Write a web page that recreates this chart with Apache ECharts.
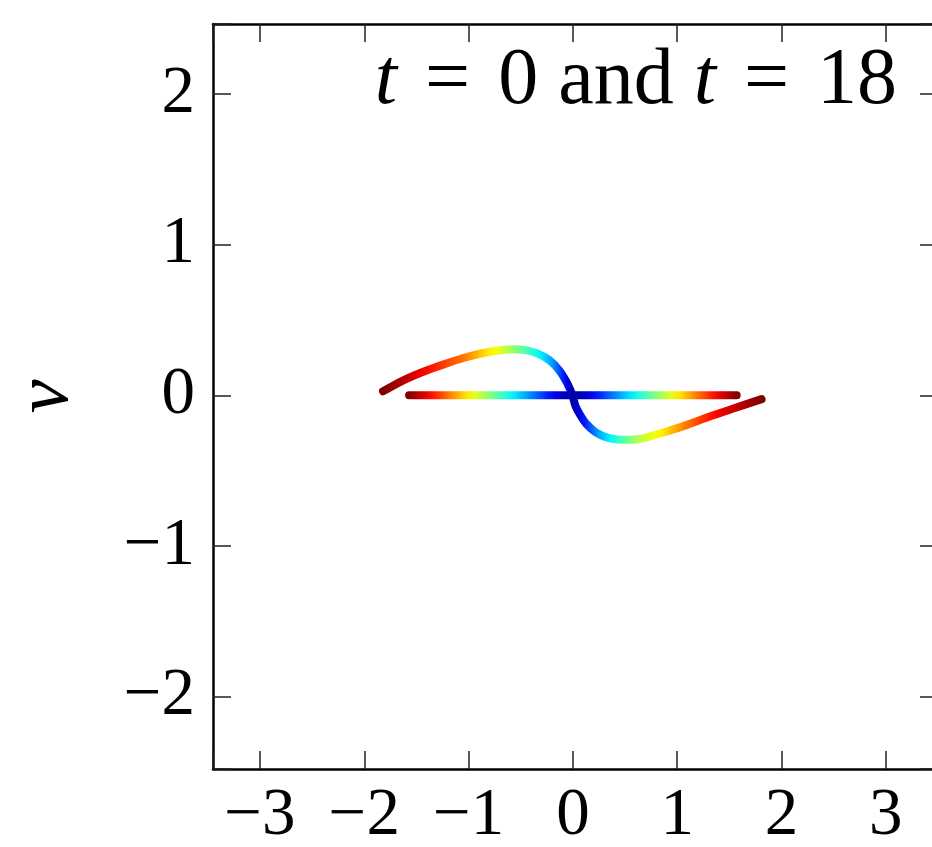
<!DOCTYPE html>
<html>
<head>
<meta charset="utf-8">
<script src="https://cdn.jsdelivr.net/npm/echarts@6/dist/echarts.min.js"></script>
<style>
  html, body { margin: 0; padding: 0; background: #fff; }
  #chart { width: 932px; height: 847px; }
</style>
</head>
<body>
<div id="chart"></div>
<script>
// t = 0: particles at rest along v = 0
const t0X = [-1.57, -1.2, -0.8, -0.4, 0, 0.4, 0.8, 1.2, 1.57];
const t0V = [0, 0, 0, 0, 0, 0, 0, 0, 0];

// t = 18: the sheared S curve
const t18X = [-1.82, -1.63, -1.44, -1.245, -1.05, -0.86, -0.70, -0.57, -0.45, -0.33, -0.22, -0.13, -0.07, -0.03, 0.0,
  0.025, 0.07, 0.13, 0.22, 0.33, 0.45, 0.55, 0.65, 0.85, 1.074, 1.297, 1.553, 1.809];
const t18V = [0.027, 0.098, 0.155, 0.204, 0.248, 0.281, 0.300, 0.306, 0.300, 0.275, 0.230, 0.165, 0.100, 0.045, -0.010,
  -0.070, -0.130, -0.190, -0.245, -0.280, -0.294, -0.295, -0.288, -0.250, -0.201, -0.144, -0.084, -0.025];

// colour tone (0..1 of jet) seen along the t = 18 curve
const toneX = [-1.82, -1.63, -1.44, -1.245, -1.05, -0.8, -0.67, -0.54, -0.415, -0.32, -0.19, -0.09, 0,
  0.115, 0.24, 0.43, 0.626, 0.85, 1.07, 1.3, 1.55, 1.81];
const toneT = [1.0, 0.95, 0.88, 0.82, 0.76, 0.64, 0.58, 0.5, 0.43, 0.37, 0.27, 0.15, 0.02,
  0.15, 0.28, 0.42, 0.55, 0.64, 0.75, 0.85, 0.93, 1.0];

const xTicks = [-3, -2, -1, 0, 1, 2, 3];
const yTicks = [-2, -1, 0, 1, 2];

function jet(t) {
  const c = v => Math.round(255 * Math.max(0, Math.min(1, v)));
  return 'rgb(' + c(1.5 - Math.abs(4 * t - 3)) + ',' + c(1.5 - Math.abs(4 * t - 2)) + ',' + c(1.5 - Math.abs(4 * t - 1)) + ')';
}

function toneAt(x) {
  if (x <= toneX[0]) return toneT[0];
  for (let i = 1; i < toneX.length; i++) {
    if (x <= toneX[i]) {
      const f = (x - toneX[i - 1]) / (toneX[i] - toneX[i - 1]);
      return toneT[i - 1] + f * (toneT[i] - toneT[i - 1]);
    }
  }
  return toneT[toneT.length - 1];
}

function colorsFor(min, max, n, fn) {
  const out = [];
  for (let i = 0; i < n; i++) out.push(jet(fn(min + (max - min) * i / (n - 1))));
  return out;
}

const minus = v => (v < 0 ? '\u2212' + Math.abs(v) : String(v));
const tickFmt = list => v => (list.indexOf(v) >= 0 ? minus(v) : '');

const serif = 'Liberation Serif';
const tickStyle = { show: true, inside: true, length: 18, lineStyle: { color: '#222', width: 1.5 } };
const spine = { show: true, onZero: false, lineStyle: { color: '#000', width: 2.5 } };

const chart = echarts.init(document.getElementById('chart'));

chart.setOption({
  animation: false,
  backgroundColor: '#fff',
  title: {
    text: '{i|t}{eq|=}0 and {i|t}{eq|=}18',
    right: 35,
    top: 42,
    padding: 0,
    textStyle: {
      fontFamily: serif, fontSize: 80, fontWeight: 'normal', color: '#000',
      rich: {
        i: { fontFamily: serif, fontSize: 80, fontStyle: 'italic', color: '#000' },
        eq: { fontFamily: serif, fontSize: 80, color: '#000', padding: [0, 28, 0, 28] }
      }
    }
  },
  grid: { left: 213, top: 24, width: 725, height: 745, containLabel: false, outerBoundsMode: 'none' },
  xAxis: [
    {
      type: 'value', position: 'bottom', min: -3.45, max: 3.5, splitNumber: 7,
      axisLine: spine, axisTick: tickStyle, splitLine: { show: false },
      axisLabel: { formatter: tickFmt(xTicks), fontFamily: serif, fontSize: 67, color: '#000', margin: 14 }
    },
    {
      type: 'value', position: 'top', min: -3.45, max: 3.5, splitNumber: 7,
      axisLine: spine, axisTick: tickStyle, splitLine: { show: false }, axisLabel: { show: false }
    }
  ],
  yAxis: [
    {
      type: 'value', position: 'left', min: -2.48, max: 2.465, splitNumber: 5,
      axisLine: spine, axisTick: tickStyle, splitLine: { show: false },
      axisLabel: { formatter: tickFmt(yTicks), fontFamily: serif, fontSize: 67, color: '#000', margin: 18 },
      name: 'v', nameLocation: 'middle', nameRotate: 90, nameGap: 128, nameMoveOverlap: false,
      nameTextStyle: { fontFamily: serif, fontSize: 76, fontStyle: 'italic', color: '#000' }
    },
    {
      type: 'value', position: 'right', min: -2.48, max: 2.465, splitNumber: 5,
      axisLine: spine, axisTick: tickStyle, splitLine: { show: false }, axisLabel: { show: false }
    }
  ],
  visualMap: [
    {
      type: 'continuous', show: false, seriesIndex: 0, dimension: 0, min: -1.57, max: 1.57,
      inRange: { color: colorsFor(-1.57, 1.57, 41, x => Math.abs(x) / 1.57) }
    },
    {
      type: 'continuous', show: false, seriesIndex: 1, dimension: 0, min: -1.82, max: 1.81,
      inRange: { color: colorsFor(-1.82, 1.81, 61, toneAt) }
    }
  ],
  series: [
    {
      name: 't = 0', type: 'line', xAxisIndex: 0, yAxisIndex: 0,
      data: t0X.map((x, i) => [x, t0V[i]]),
      showSymbol: false, symbol: 'none',
      lineStyle: { width: 8, cap: 'round' }
    },
    {
      name: 't = 18', type: 'line', xAxisIndex: 0, yAxisIndex: 0,
      data: t18X.map((x, i) => [x, t18V[i]]),
      showSymbol: false, symbol: 'none', smooth: 0.3,
      lineStyle: { width: 8, cap: 'round', join: 'round' }
    }
  ]
});
</script>
</body>
</html>
